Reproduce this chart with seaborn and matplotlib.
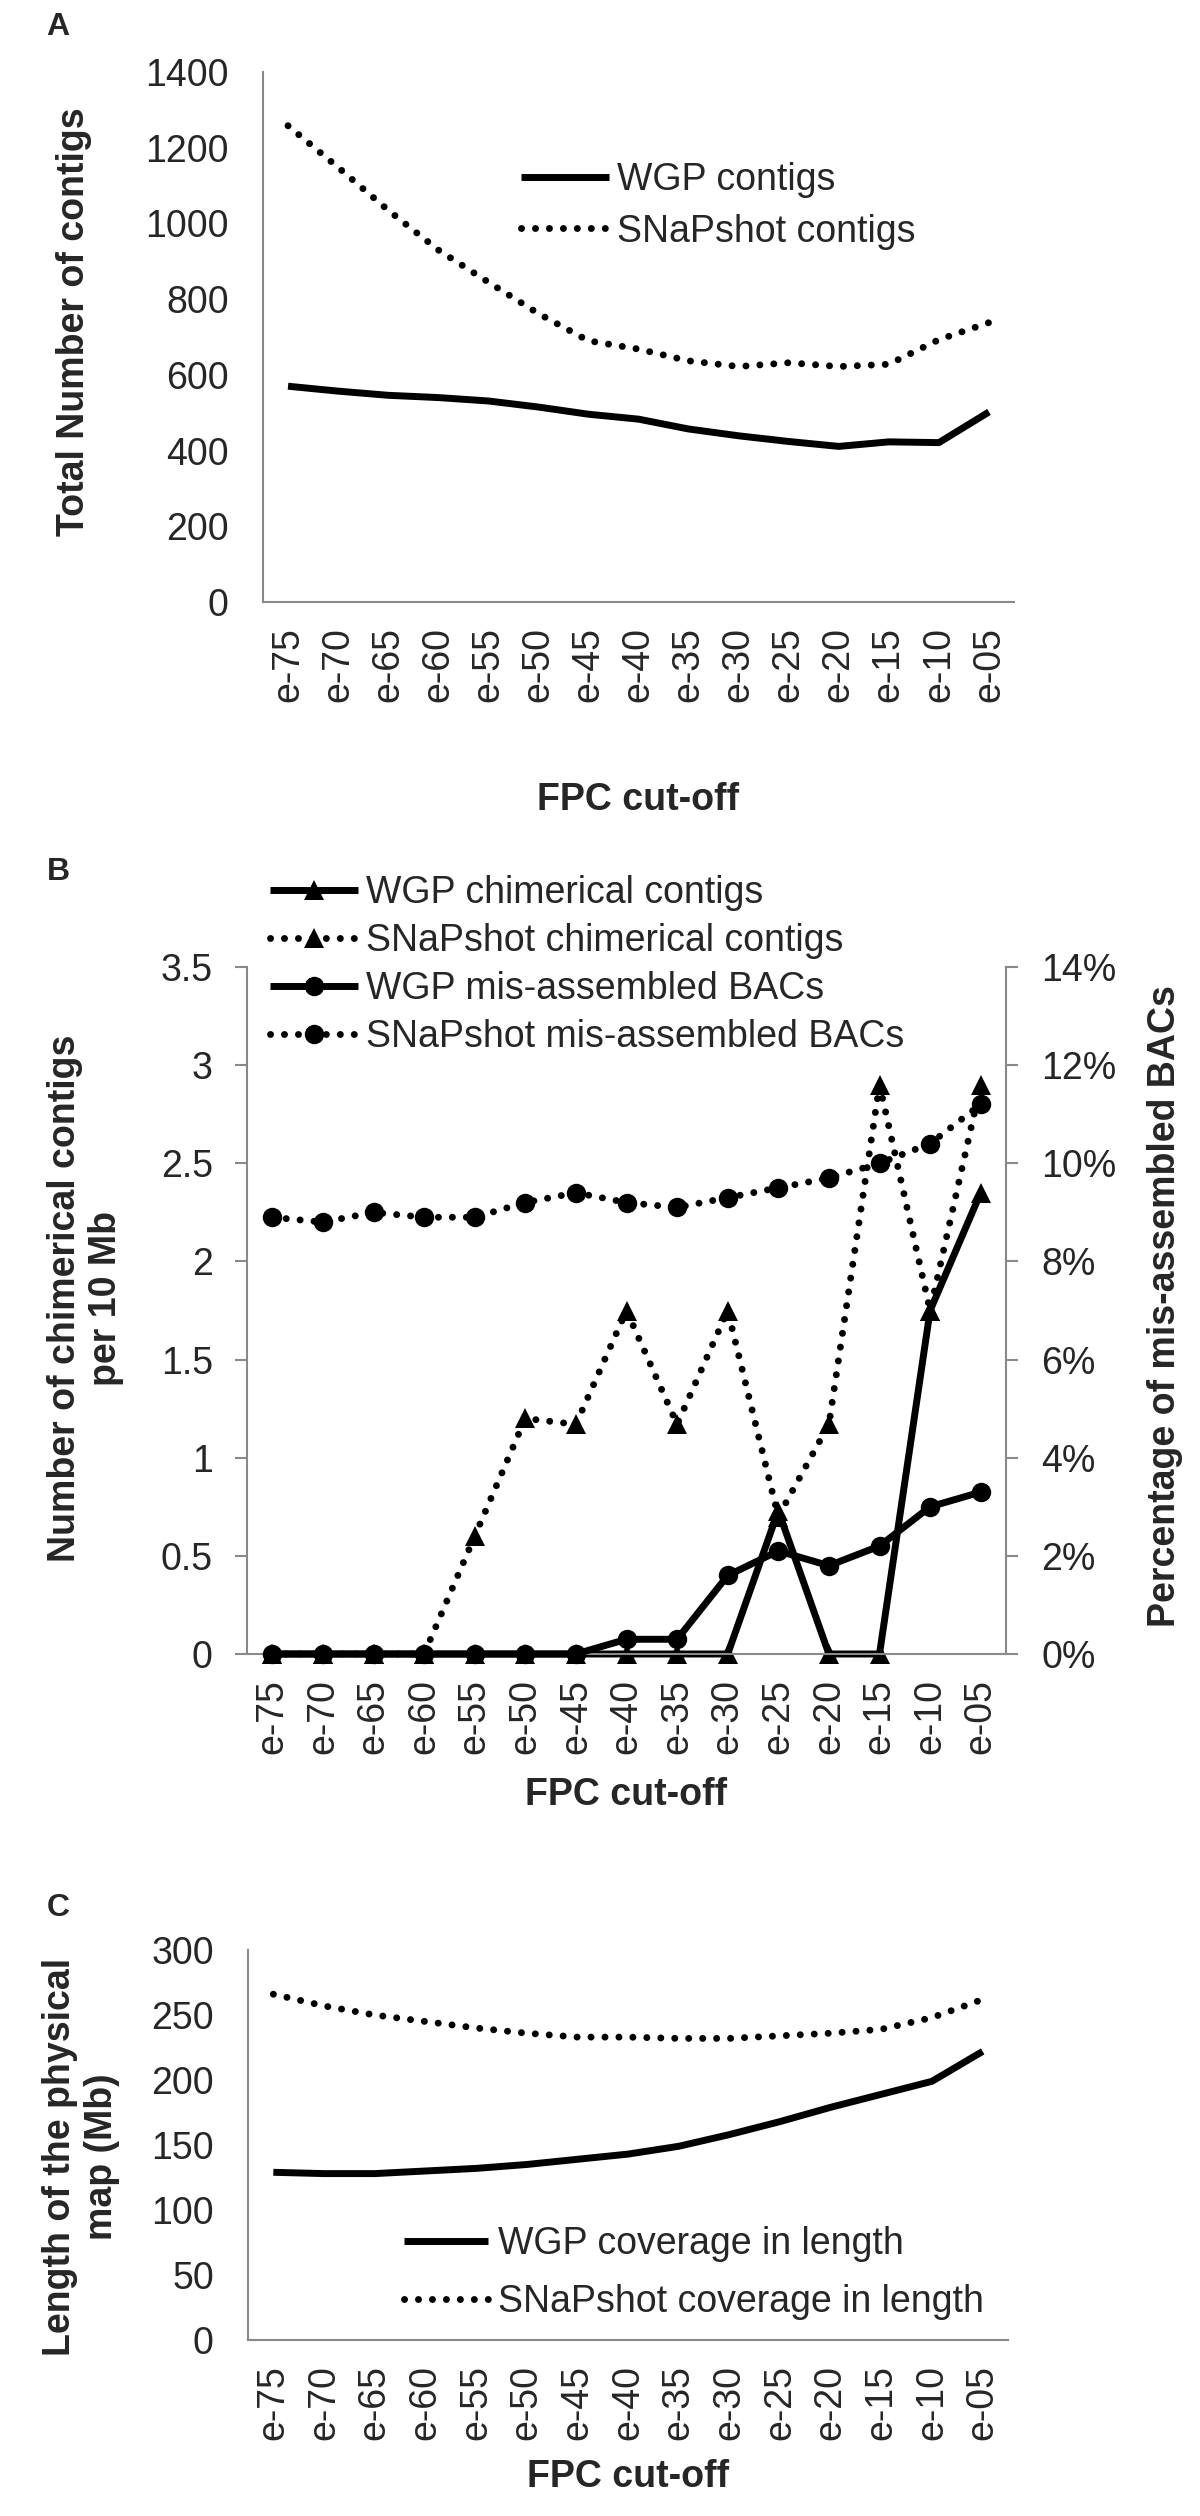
import numpy as np
import pandas as pd
import matplotlib
matplotlib.use('Agg')
import matplotlib.pyplot as plt
from matplotlib.ticker import FuncFormatter
import seaborn as sns

# FPC cut-off categories (shared by all three panels)
cutoffs = ['e-75', 'e-70', 'e-65', 'e-60', 'e-55', 'e-50', 'e-45', 'e-40',
           'e-35', 'e-30', 'e-25', 'e-20', 'e-15', 'e-10', 'e-05']

# panel A: total number of contigs
wgp_contigs = [570, 557, 546, 540, 531, 515, 496, 483, 457, 439, 424, 411, 423, 421, 502]
snap_contigs = [1258, 1148, 1035, 930, 845, 762, 690, 668, 637, 622, 632, 622, 628, 693, 738]

# panel B: chimerical contigs per 10 Mb (left) and % mis-assembled BACs (right)
wgp_chim = [0, 0, 0, 0, 0, 0, 0, 0, 0, 0, 0.73, 0, 0, 1.75, 2.35]
snap_chim = [0, 0, 0, 0, 0.6, 1.2, 1.17, 1.75, 1.17, 1.75, 0.7, 1.17, 2.9, 1.75, 2.9]
wgp_bac_pct = [0, 0, 0, 0, 0, 0, 0, 0.3, 0.3, 1.6, 2.1, 1.8, 2.2, 3.0, 3.3]
snap_bac_pct = [8.9, 8.8, 9.0, 8.9, 8.9, 9.2, 9.4, 9.2, 9.1, 9.3, 9.5, 9.7, 10.0, 10.4, 11.2]

# panel C: length of the physical map (Mb)
wgp_len = [129, 128, 128, 130, 132, 135, 139, 143, 149, 158, 168, 179, 189, 199, 222]
snap_len = [266, 257, 250, 245, 240, 236, 233, 233, 232, 232, 234, 236, 239, 248, 262]

df_a = pd.DataFrame({'cutoff': cutoffs, 'wgp': wgp_contigs, 'snap': snap_contigs})
df_b = pd.DataFrame({'cutoff': cutoffs, 'wgp_chim': wgp_chim, 'snap_chim': snap_chim,
                     'wgp_bac': wgp_bac_pct, 'snap_bac': snap_bac_pct})
df_c = pd.DataFrame({'cutoff': cutoffs, 'wgp': wgp_len, 'snap': snap_len})

sns.set_style('white')
plt.rcParams['font.family'] = ['Liberation Sans', 'DejaVu Sans']

W, H = 1200, 2516
FS = 27
GREY = '#898989'
LW = 5
DOT = dict(linestyle=(0, (0.01, 2.0)), dash_capstyle='round')
SOLID = dict(linestyle='-', solid_capstyle='butt')

fig = plt.figure(figsize=(W / 100, H / 100), dpi=100)


def px_axes(left, top, right, bottom):
    return fig.add_axes([left / W, 1 - bottom / H, (right - left) / W, (bottom - top) / H])


def style_axes(ax):
    for s in ['top', 'right']:
        ax.spines[s].set_visible(False)
    for s in ['left', 'bottom']:
        ax.spines[s].set_color(GREY)
        ax.spines[s].set_linewidth(1.5)
    ax.set_xlim(-0.5, 14.5)
    ax.set_xticks(range(len(cutoffs)))
    ax.set_xticklabels(cutoffs)
    ax.set_xticks(np.arange(-0.5, len(cutoffs), 1), minor=True)
    ax.tick_params(axis='x', which='major', length=0, pad=18, labelrotation=90, labelsize=FS)
    ax.tick_params(axis='x', which='minor', length=8.6, width=1.5, color=GREY, direction='out')
    ax.tick_params(axis='y', length=8.6, width=1.5, color=GREY, direction='out', pad=16, labelsize=FS)
    ax.set_xlabel('')
    ax.set_ylabel('')


def drop_auto_legend(ax):
    if ax.get_legend() is not None:
        ax.get_legend().remove()


def set_labels(ax, xlab_y, ylab, ylab_xy):
    ax.set_xlabel('FPC cut-off', fontsize=FS, fontweight='bold', va='center')
    ax.xaxis.set_label_coords(0.5, xlab_y)
    ax.set_ylabel(ylab, fontsize=FS, fontweight='bold', va='center', ha='center', multialignment='center')
    ax.yaxis.set_label_coords(*ylab_xy)


# ---------------- panel A ----------------
ax_a = px_axes(263, 72, 1014, 602)
sns.lineplot(data=df_a, x='cutoff', y='wgp', ax=ax_a, color='black', linewidth=LW,
             sort=False, label='WGP contigs', **SOLID)
sns.lineplot(data=df_a, x='cutoff', y='snap', ax=ax_a, color='black', linewidth=LW,
             sort=False, label='SNaPshot contigs', **DOT)
drop_auto_legend(ax_a)
style_axes(ax_a)
ax_a.set_ylim(0, 1400)
ax_a.set_yticks(np.arange(0, 1401, 200))
set_labels(ax_a, -0.3736, 'Total Number of contigs', (-0.2517, 0.528))
h, l = ax_a.get_legend_handles_labels()
ax_a.legend(h, l, loc='center left', bbox_to_anchor=(521 / W, 1 - 206 / H),
            bbox_transform=fig.transFigure, frameon=False, fontsize=FS,
            handlelength=2.35, handletextpad=0.2, labelspacing=0.4,
            borderpad=0, borderaxespad=0)

# ---------------- panel B ----------------
ax_b = px_axes(247, 967, 1006, 1654)
sns.lineplot(data=df_b, x='cutoff', y='wgp_chim', ax=ax_b, color='black', linewidth=LW,
             sort=False, marker='^', markersize=14, markeredgewidth=0,
             markeredgecolor='black', label='WGP chimerical contigs', clip_on=False, **SOLID)
sns.lineplot(data=df_b, x='cutoff', y='snap_chim', ax=ax_b, color='black', linewidth=LW,
             sort=False, marker='^', markersize=14, markeredgewidth=0,
             markeredgecolor='black', label='SNaPshot chimerical contigs', clip_on=False, **DOT)
drop_auto_legend(ax_b)
style_axes(ax_b)
ax_b.set_ylim(0, 3.5)
ax_b.set_yticks(np.arange(0, 3.51, 0.5))
ax_b.yaxis.set_major_formatter(FuncFormatter(lambda v, p: f'{v:g}'))

ax_b2 = ax_b.twinx()
sns.lineplot(data=df_b, x='cutoff', y='wgp_bac', ax=ax_b2, color='black', linewidth=LW,
             sort=False, marker='o', markersize=14, markeredgewidth=0,
             markeredgecolor='black', label='WGP mis-assembled BACs', clip_on=False, **SOLID)
sns.lineplot(data=df_b, x='cutoff', y='snap_bac', ax=ax_b2, color='black', linewidth=LW,
             sort=False, marker='o', markersize=14, markeredgewidth=0,
             markeredgecolor='black', label='SNaPshot mis-assembled BACs', clip_on=False, **DOT)
drop_auto_legend(ax_b2)
for s in ['top', 'left', 'bottom']:
    ax_b2.spines[s].set_visible(False)
ax_b2.spines['right'].set_color(GREY)
ax_b2.spines['right'].set_linewidth(1.5)
ax_b2.set_xlim(-0.5, 14.5)
ax_b2.set_ylim(0, 14)
ax_b2.set_yticks(np.arange(0, 15, 2))
ax_b2.yaxis.set_major_formatter(FuncFormatter(lambda v, p: f'{v:.0f}%'))
ax_b2.tick_params(axis='y', length=8.6, width=1.5, color=GREY, direction='out', pad=17, labelsize=FS)
ax_b2.set_xlabel('')
ax_b2.set_ylabel('Percentage of mis-assembled BACs', fontsize=FS, fontweight='bold',
                 rotation=90, va='center', ha='center')
ax_b2.yaxis.set_label_coords(1.2095, 0.507)

set_labels(ax_b, -0.205, 'Number of chimerical contigs\nper 10 Mb', (-0.213, 0.518))
h1, l1 = ax_b.get_legend_handles_labels()
h2, l2 = ax_b2.get_legend_handles_labels()
ax_b2.legend([h1[0], h1[1], h2[0], h2[1]], [l1[0], l1[1], l2[0], l2[1]],
             loc='center left', bbox_to_anchor=(270 / W, 1 - 965 / H),
             bbox_transform=fig.transFigure, frameon=False, fontsize=FS,
             handlelength=2.35, handletextpad=0.2, labelspacing=0.32,
             borderpad=0, borderaxespad=0, numpoints=1)

# ---------------- panel C ----------------
ax_c = px_axes(248, 1950, 1008, 2340)
sns.lineplot(data=df_c, x='cutoff', y='wgp', ax=ax_c, color='black', linewidth=LW,
             sort=False, label='WGP coverage in length', **SOLID)
sns.lineplot(data=df_c, x='cutoff', y='snap', ax=ax_c, color='black', linewidth=LW,
             sort=False, label='SNaPshot coverage in length', **DOT)
drop_auto_legend(ax_c)
style_axes(ax_c)
ax_c.set_ylim(0, 300)
ax_c.set_yticks(np.arange(0, 301, 50))
set_labels(ax_c, -0.351, 'Length of the physical\nmap (Mb)', (-0.22, 0.47))
h, l = ax_c.get_legend_handles_labels()
ax_c.legend(h, l, loc='center left', bbox_to_anchor=(404 / W, 1 - 2273 / H),
            bbox_transform=fig.transFigure, frameon=False, fontsize=FS,
            handlelength=2.25, handletextpad=0.25, labelspacing=0.59,
            borderpad=0, borderaxespad=0)

# panel letters
for letter, (x, y) in zip('ABC', [(46, 12), (47, 857), (47, 1893)]):
    fig.text(x / W, 1 - y / H, letter, fontsize=23, fontweight='bold', ha='left', va='top')

fig.savefig('out.png', dpi=100)
